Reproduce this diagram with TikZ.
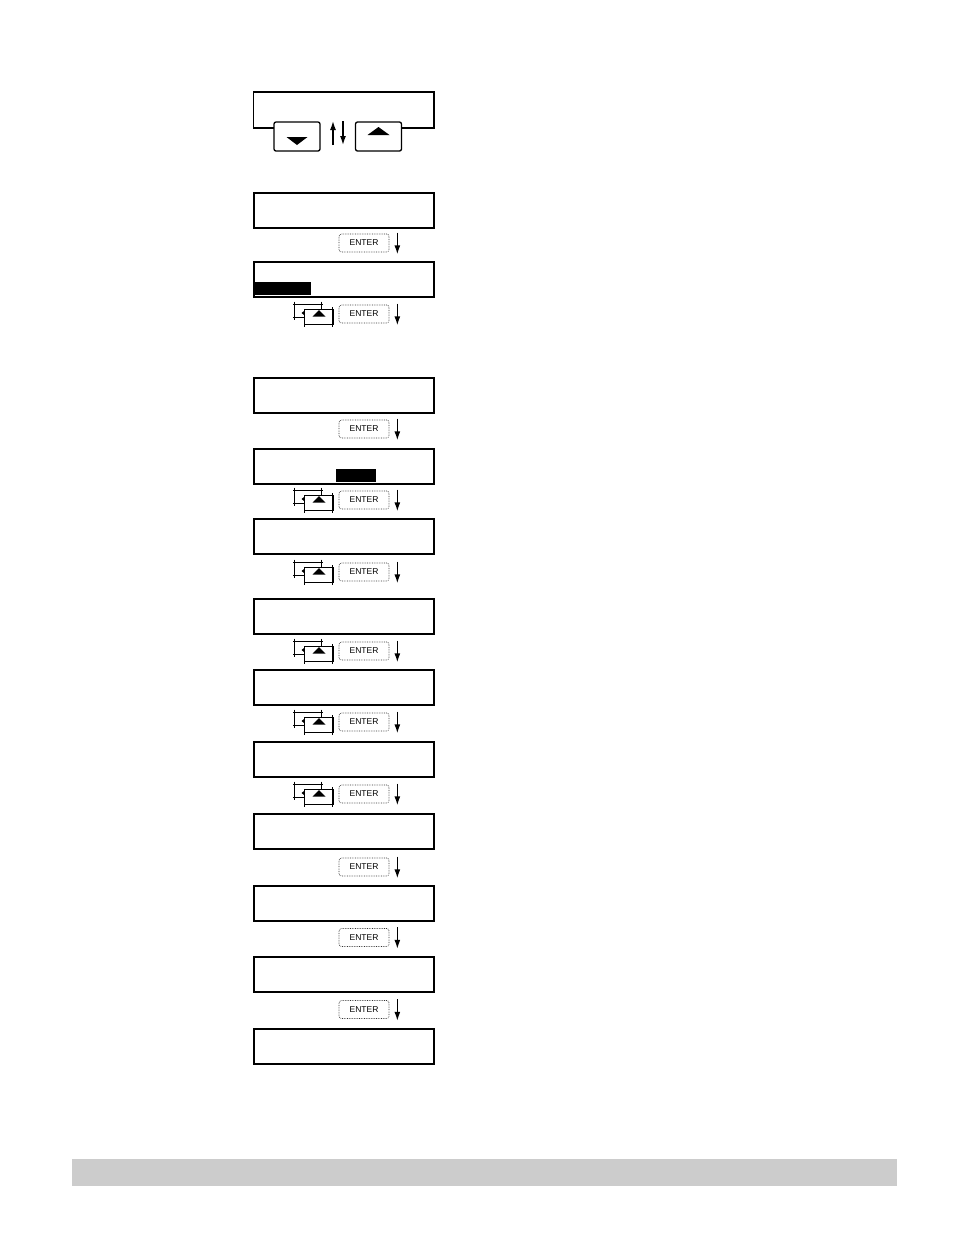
\documentclass[tikz,border=0pt]{standalone}
\usepackage{fontspec}
\setsansfont{Liberation Sans}
\usepackage{tikz}
\usetikzlibrary{calc,arrows.meta}

\tikzset{
  screen/.style={draw, line width=2pt, minimum width=180pt, minimum height=35pt, inner sep=0pt},
  enterkey/.style={draw=black!80, densely dotted, line width=0.7pt, rounded corners=2.5pt, minimum width=50pt,
    minimum height=18pt, inner sep=0pt, font=\sffamily\fontsize{8.5}{8.5}\selectfont},
  arrowkey/.style={draw, line width=1.3pt, rounded corners=2pt, fill=white, minimum width=46pt, minimum height=29pt, inner sep=0pt},
  step arrow/.style={-{Latex[length=9pt,width=6pt]}, line width=1.4pt}
}

\begin{document}
\begin{tikzpicture}[x=1pt,y=-1pt]
    \useasboundingbox (0,0) rectangle (954,1235);
    % top display with the two arrow keys
    \draw[line width=1.8pt] (274,127.7) -- (253.5,127.7) -- (253.5,91.7) -- (434,91.7) -- (434,127.7) -- (401.5,127.7);
    \node[arrowkey] (kdown) at (297,136.5) {};
    \node[arrowkey] (kup) at (378.5,136.5) {};
    \fill ($(kdown.center)+(-10.5,0.5)$) -- ++(21,0) -- ++(-10.5,8) -- cycle;
    \fill ($(kup.center)+(-11,-1.5)$) -- ++(22,0) -- ++(-11,-8) -- cycle;
    \draw[step arrow] (333,145) -- (333,121);
    \draw[step arrow] (343,121) -- (343,145);
    % screens
    \foreach \y [count=\i] in {210,279.5,395,466,536,616,687.5,759,831,903,974.5,1046}
        \node[screen] (s\i) at (344,\y) {};
    \fill (255,282.3) rectangle (311,295);
    \fill (336,469.3) rectangle (376,481.7);
    % ENTER keys
    \foreach \y [count=\i] in {243,314,429,500,572,651,722,794,867,937.5,1009.5}
    {
        \node[enterkey] (e\i) at (364,\y) {ENTER};
        \draw[step arrow] ([xshift=8pt,yshift=1pt]e\i.north east) -- ([xshift=8pt,yshift=-2pt]e\i.south east);
    }
    % cursor keys symbol
    \foreach \y in {314,500,572,651,722,794}
    {
        \begin{scope}[shift={(0,\y)}]
            \draw[line width=1pt] (293,-10) -- (323,-10) (293,3) -- (304,3);
            \draw[line width=1.6pt] (294.5,-12.5) -- (294.5,5.5) (321.5,-12.5) -- (321.5,-4);
            \fill (301.5,-1) -- (306,-4.5) -- (306,2.5) -- cycle;
            \filldraw[fill=white, line width=1pt] (304,-5) rectangle (333,10);
            \draw[line width=1.6pt] (304.5,-3) -- (304.5,12.5) (332.5,-7) -- (332.5,12.5);
            \fill (312.5,2.5) -- (325.5,2.5) -- (319,-4) -- cycle;
        \end{scope}
    }
    % grey bar at the bottom
    \fill[black!20] (72,1159) rectangle (897,1186);
\end{tikzpicture}
\end{document}
